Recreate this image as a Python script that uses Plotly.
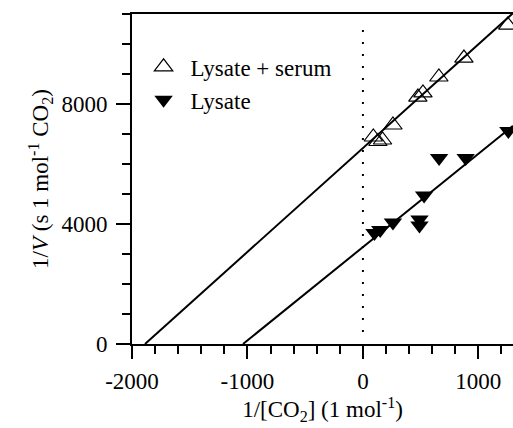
import plotly.graph_objects as go
import numpy as np

# Data
serum_x = [90, 130, 170, 260, 476, 520, 658, 875, 1255]
serum_y = [6900, 6750, 6800, 7300, 8230, 8370, 8900, 9530, 10630]

lysate_x = [100, 150, 260, 490, 490, 530, 660, 890, 1260]
lysate_y = [3700, 3800, 4050, 4150, 3950, 4950, 6200, 6200, 7100]

# Fitted lines (intercept at 1/[CO2]=0, slope)
serum_fit = {"intercept": 6530, "slope": 3.46}
lysate_fit = {"intercept": 3230, "slope": 3.11}

x_max = 1300
ref_x = 0
ref_y = [400, 10700]

font_family = "Liberation Serif, Times New Roman, serif"
FONT = dict(family=font_family, size=23, color="black")
LEG_FONT = dict(family=font_family, size=23, color="black")

def fit_line(p):
    x0 = -p["intercept"] / p["slope"]
    xs = np.array([x0, x_max])
    return xs, p["intercept"] + p["slope"] * xs

fig = go.Figure()

sx, sy = fit_line(serum_fit)
lx, ly = fit_line(lysate_fit)
fig.add_trace(go.Scatter(x=sx, y=sy, mode="lines", line=dict(color="black", width=2),
                         showlegend=False, hoverinfo="skip"))
fig.add_trace(go.Scatter(x=lx, y=ly, mode="lines", line=dict(color="black", width=2),
                         showlegend=False, hoverinfo="skip"))
fig.add_trace(go.Scatter(x=[ref_x, ref_x], y=ref_y, mode="lines",
                         line=dict(color="black", width=2, dash="2px,10px"),
                         showlegend=False, hoverinfo="skip"))

fig.add_trace(go.Scatter(x=serum_x, y=serum_y, mode="markers", name="Lysate + serum",
                         legendgroup="a", cliponaxis=False,
                         marker=dict(symbol="triangle-up-open", size=16, color="black",
                                     line=dict(width=1.2, color="black"))))
fig.add_trace(go.Scatter(x=lysate_x, y=lysate_y, mode="markers", name="Lysate",
                         legendgroup="b", cliponaxis=False,
                         marker=dict(symbol="triangle-down", size=16, color="black",
                                     line=dict(width=0))))

fig.update_layout(
    width=513, height=428,
    margin=dict(l=132, r=0, t=14, b=84),
    paper_bgcolor="white", plot_bgcolor="white",
    font=FONT,
    legend=dict(x=0.012, y=0.905, xanchor="left", yanchor="top",
                bgcolor="rgba(0,0,0,0)", font=LEG_FONT, tracegroupgap=0, itemwidth=44),
    xaxis=dict(
        range=[-2000, x_max], showgrid=False, zeroline=False,
        showline=True, linecolor="black", linewidth=2, mirror=True,
        tickmode="array", tickvals=[-2000, -1000, 0, 1000],
        ticktext=["-2000", "-1000", "0", "1000"],
        ticks="outside", ticklen=13, tickwidth=2, tickcolor="black",
        minor=dict(dtick=200, tick0=0, ticks="outside", ticklen=8, tickwidth=2, tickcolor="black"),
        tickfont=FONT,
        title=dict(text="1/[CO<sub>2</sub>] (1 mol<sup>-1</sup>)", standoff=6, font=FONT),
        ticklabelstandoff=2,
    ),
    yaxis=dict(
        range=[0, 11000], showgrid=False, zeroline=False,
        showline=True, linecolor="black", linewidth=2,
        tickmode="array", tickvals=[0, 4000, 8000],
        ticktext=["0", "4000", "8000"],
        ticks="outside", ticklen=14, tickwidth=2, tickcolor="black",
        minor=dict(dtick=1000, tick0=0, ticks="outside", ticklen=8, tickwidth=2, tickcolor="black"),
        tickfont=FONT,
        title=dict(text="1/<i>V</i> (s 1 mol<sup>-1</sup> CO<sub>2</sub>)", standoff=6, font=FONT),
        ticklabelstandoff=4,
    ),
)

fig.write_html("out.html",
               config={"displayModeBar": False},
               post_script="document.body.style.margin='0';document.body.style.overflow='hidden';")
